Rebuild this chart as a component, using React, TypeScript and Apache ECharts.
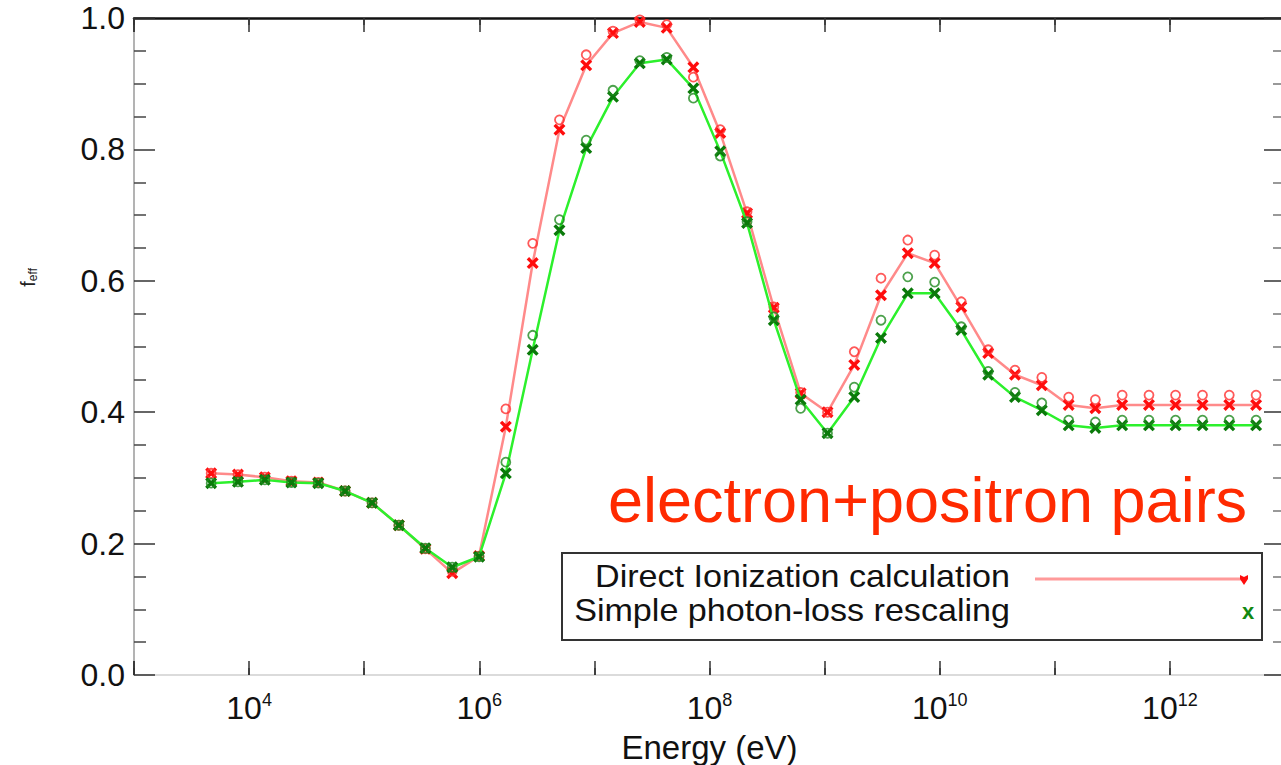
import React, { useEffect, useRef } from "react";
import * as echarts from "echarts";

// Energy grid (eV)
const energies = [
  4.68e3, 8.0e3, 1.37e4, 2.33e4, 3.99e4, 6.82e4, 1.17e5, 2.0e5, 3.4e5, 5.82e5,
  9.95e5, 1.7e6, 2.91e6, 4.97e6, 8.49e6, 1.45e7, 2.48e7, 4.25e7, 7.24e7, 1.24e8,
  2.12e8, 3.62e8, 6.19e8, 1.06e9, 1.81e9, 3.09e9, 5.28e9, 9.04e9, 1.54e10, 2.64e10,
  4.51e10, 7.71e10, 1.32e11, 2.25e11, 3.85e11, 6.58e11, 1.12e12, 1.92e12, 3.28e12, 5.61e12,
];

// Direct ionization calculation (x markers)
const directX = [
  0.307, 0.305, 0.301, 0.295, 0.293, 0.28, 0.262, 0.228, 0.192, 0.155,
  0.181, 0.378, 0.627, 0.83, 0.928, 0.977, 0.994, 0.985, 0.925, 0.825,
  0.703, 0.559, 0.429, 0.4, 0.472, 0.578, 0.642, 0.627, 0.56, 0.49,
  0.457, 0.441, 0.411, 0.406, 0.411, 0.411, 0.411, 0.411, 0.411, 0.411,
];
// Direct ionization calculation (open circles)
const directO = [
  0.307, 0.305, 0.301, 0.295, 0.293, 0.28, 0.262, 0.228, 0.192, 0.158,
  0.181, 0.405, 0.657, 0.845, 0.944, 0.98, 0.997, 0.99, 0.91, 0.83,
  0.705, 0.56, 0.43, 0.4, 0.492, 0.604, 0.662, 0.639, 0.568, 0.495,
  0.464, 0.453, 0.423, 0.419, 0.426, 0.426, 0.426, 0.426, 0.426, 0.426,
];
// Simple photon-loss rescaling (x markers)
const rescaleX = [
  0.292, 0.294, 0.297, 0.293, 0.292, 0.28, 0.262, 0.228, 0.193, 0.164,
  0.18, 0.307, 0.495, 0.677, 0.802, 0.88, 0.931, 0.937, 0.893, 0.797,
  0.688, 0.54, 0.419, 0.368, 0.423, 0.513, 0.581, 0.581, 0.525, 0.457,
  0.423, 0.403, 0.38, 0.376, 0.38, 0.38, 0.38, 0.38, 0.38, 0.38,
];
// Simple photon-loss rescaling (open circles)
const rescaleO = [
  0.292, 0.294, 0.297, 0.293, 0.292, 0.28, 0.262, 0.228, 0.193, 0.164,
  0.18, 0.324, 0.517, 0.693, 0.814, 0.89, 0.935, 0.94, 0.878, 0.79,
  0.69, 0.545, 0.406, 0.368, 0.438, 0.54, 0.606, 0.598, 0.53, 0.462,
  0.43, 0.414, 0.388, 0.385, 0.388, 0.388, 0.388, 0.388, 0.388, 0.388,
];

const yTicks = ["0.0", "0.2", "0.4", "0.6", "0.8", "1.0"];
const legendNames = ["Direct Ionization calculation", "Simple photon-loss rescaling"];
const annotation = "electron+positron pairs";

const FONT = "'Liberation Sans', Arial, Helvetica, sans-serif";
const XMARK = "path://M0,2L2,0L5,3L8,0L10,2L7,5L10,8L8,10L5,7L2,10L0,8L3,5Z";

const pairs = (ys: number[]) => energies.map((e, i) => [e, ys[i]]);

export default function App() {
  const ref = useRef<HTMLDivElement>(null);
  useEffect(() => {
    if (!ref.current) return;
    const chart = echarts.init(ref.current, null, { renderer: "svg" });
    const logAxisBase = {
      type: "log" as const,
      logBase: 10,
      min: 1e3,
      max: 1e13,
      gridIndex: 0,
      splitLine: { show: false },
    };
    chart.setOption({
      animation: false,
      backgroundColor: "#ffffff",
      textStyle: { fontFamily: FONT },
      grid: { left: 134, top: 18, width: 1151, height: 657, outerBoundsMode: "none", containLabel: false },
      xAxis: [
        {
          ...logAxisBase,
          position: "bottom",
          splitNumber: 10,
          axisLine: { show: true, onZero: false, lineStyle: { color: "#cfcfcf", width: 1.5 } },
          axisTick: { show: true, inside: true, length: 7, lineStyle: { color: "#333", width: 1.5 } },
          axisLabel: {
            margin: 16,
            formatter: (v: number) => {
              const e = Math.round(Math.log10(v));
              return e % 2 === 0 && e > 3 && e < 13 ? `{b|10}{s|${e}}` : "";
            },
            rich: {
              b: { fontSize: 32, fontFamily: FONT, color: "#111", lineHeight: 34 },
              s: { fontSize: 18, fontFamily: FONT, color: "#111", lineHeight: 18, verticalAlign: "top" },
            },
          },
          name: "Energy (eV)",
          nameLocation: "middle",
          nameGap: 56,
          nameTextStyle: { fontSize: 33, color: "#111", fontFamily: FONT },
        },
        {
          ...logAxisBase,
          position: "top",
          splitNumber: 10,
          axisLine: { show: true, onZero: false, lineStyle: { color: "#111", width: 2.5 } },
          axisTick: { show: true, inside: true, length: 7, lineStyle: { color: "#333", width: 1.5 } },
          axisLabel: { show: false },
        },
        {
          ...logAxisBase,
          position: "bottom",
          splitNumber: 5,
          axisLine: { show: false, onZero: false },
          axisTick: { show: true, inside: true, length: 14, lineStyle: { color: "#333", width: 1.5 } },
          axisLabel: { show: false },
        },
        {
          ...logAxisBase,
          position: "top",
          splitNumber: 5,
          axisLine: { show: false, onZero: false },
          axisTick: { show: true, inside: true, length: 14, lineStyle: { color: "#333", width: 1.5 } },
          axisLabel: { show: false },
        },
      ],
      yAxis: [
        {
          type: "value",
          min: 0,
          max: 1,
          interval: 0.2,
          position: "left",
          splitLine: { show: false },
          axisLine: { show: true, onZero: false, lineStyle: { color: "#9a9a9a", width: 1.5 } },
          axisTick: { show: true, inside: true, length: 21, lineStyle: { color: "#333", width: 1.5 } },
          minorTick: { show: true, splitNumber: 4, length: 12, lineStyle: { color: "#444", width: 1.5 } },
          axisLabel: {
            fontSize: 32,
            color: "#111",
            margin: 9,
            fontFamily: FONT,
            formatter: (v: number) => yTicks[Math.round(v * 5)] ?? "",
          },
        },
        {
          type: "value",
          min: 0,
          max: 1,
          interval: 0.2,
          position: "right",
          splitLine: { show: false },
          axisLine: { show: true, onZero: false, lineStyle: { color: "#333", width: 1.5 } },
          axisTick: { show: true, inside: true, length: 21, lineStyle: { color: "#333", width: 1.5 } },
          minorTick: { show: true, splitNumber: 4, length: 12, lineStyle: { color: "#777", width: 1.5 } },
          axisLabel: { show: false },
        },
      ],
      series: [
        {
          name: legendNames[0],
          type: "line",
          data: pairs(directX),
          symbol: XMARK,
          symbolSize: 12,
          lineStyle: { color: "#ff8a8a", width: 2.5 },
          itemStyle: { color: "#ff0d0d" },
          z: 2,
        },
        {
          name: legendNames[0] + " (o)",
          type: "scatter",
          data: pairs(directO),
          symbol: "circle",
          symbolSize: 9,
          itemStyle: { color: "rgba(255,255,255,0)", borderColor: "#ff3030", borderWidth: 1.8 },
          z: 3,
        },
        {
          name: legendNames[1],
          type: "line",
          data: pairs(rescaleX),
          symbol: XMARK,
          symbolSize: 12,
          lineStyle: { color: "#2cf02c", width: 2.5 },
          itemStyle: { color: "#0a7a0a" },
          z: 4,
        },
        {
          name: legendNames[1] + " (o)",
          type: "scatter",
          data: pairs(rescaleO),
          symbol: "circle",
          symbolSize: 9,
          itemStyle: { color: "rgba(255,255,255,0)", borderColor: "#1f8a1f", borderWidth: 1.8 },
          z: 5,
        },
      ],
      graphic: [
        {
          type: "text",
          left: 18,
          top: 268,
          rotation: Math.PI / 2,
          style: {
            text: "{f|f}{e|eff}",
            rich: {
              f: { fontSize: 20, fontFamily: FONT, fill: "#222", lineHeight: 22 },
              e: { fontSize: 12, fontFamily: FONT, fill: "#222", lineHeight: 12, verticalAlign: "bottom" },
            },
          },
          z: 100,
        },
        {
          type: "text",
          x: 608,
          y: 500,
          style: {
            text: annotation,
            font: `63px ${FONT}`,
            fill: "#ff2a00",
            verticalAlign: "middle",
            align: "left",
          },
          z: 100,
        },
        {
          type: "rect",
          shape: { x: 562, y: 553, width: 700, height: 87 },
          style: { fill: "#ffffff", stroke: "#333", lineWidth: 2 },
          z: 100,
        },
        {
          type: "text",
          x: 1010,
          y: 577,
          scaleX: 1.1,
          style: {
            text: legendNames[0],
            font: `31px ${FONT}`,
            fill: "#111",
            align: "right",
            verticalAlign: "middle",
          },
          z: 101,
        },
        {
          type: "text",
          x: 1010,
          y: 611,
          scaleX: 1.1,
          style: {
            text: legendNames[1],
            font: `31px ${FONT}`,
            fill: "#111",
            align: "right",
            verticalAlign: "middle",
          },
          z: 101,
        },
        {
          type: "line",
          shape: { x1: 1035, y1: 579, x2: 1243, y2: 579 },
          style: { stroke: "#ff9a9a", lineWidth: 3 },
          z: 101,
        },
        {
          type: "polygon",
          shape: { points: [[1240, 575], [1244, 577], [1248, 575], [1248, 579], [1244, 585], [1240, 579]] },
          style: { fill: "#ff0d0d" },
          z: 102,
        },
        {
          type: "text",
          x: 1248,
          y: 611,
          style: {
            text: "x",
            font: `bold 22px ${FONT}`,
            fill: "#118811",
            align: "center",
            verticalAlign: "middle",
          },
          z: 102,
        },
      ],
    });
    return () => chart.dispose();
  }, []);
  return (
    <div
      ref={ref}
      style={{ position: "fixed", left: 0, top: 0, width: 1281, height: 765, background: "#fff" }}
    />
  );
}
